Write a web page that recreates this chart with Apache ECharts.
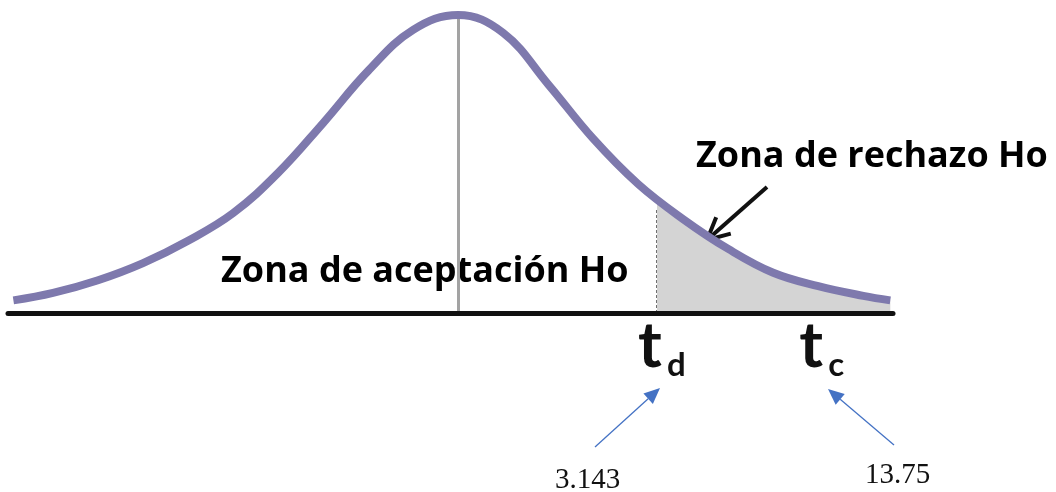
<!DOCTYPE html>
<html>
<head>
<meta charset="utf-8">
<script src="https://cdn.jsdelivr.net/npm/echarts@6/dist/echarts.min.js"></script>
<style>
  html, body { margin: 0; padding: 0; background: #fff; }
  #main { width: 1056px; height: 492px; }
</style>
</head>
<body>
<div id="main"></div>
<script>
// puntos (t, densidad)
var curveX = [-4.94, -4.5, -4, -3.5, -3, -2.5, -2, -1.5, -1, -0.5, 0,
              0.5, 1, 1.5, 2, 2.5, 3, 3.5, 4, 4.5, 4.80];
var curveY = [0.017, 0.027, 0.044, 0.067, 0.097, 0.134, 0.188, 0.255, 0.325, 0.380, 0.400,
              0.376, 0.307, 0.234, 0.173, 0.126, 0.086, 0.054, 0.036, 0.023, 0.017];
var tD = 2.21;          // t de decision (inicio zona de rechazo)
var tDHeight = 0.14;    // altura de la curva en tD
var tC = 4.0;           // t calculado
var tNames = ['d', 'c'];
var tValues = ['3.143', '13.75'];
var zoneLabels = ['Zona de aceptación Ho', 'Zona de rechazo Ho'];

var curve = curveX.map(function (x, i) { return [x, curveY[i]]; });
var xFirst = curveX[0], xLast = curveX[curveX.length - 1];
var cut = (tD - xFirst) / (xLast - xFirst);

var myChart = echarts.init(document.getElementById('main'));

var option = {
  animation: false,
  grid: { left: 8, right: 163, top: 15, bottom: 179 },
  xAxis: {
    type: 'value', min: -5, max: 4.83, z: 10,
    axisLine: { show: true, lineStyle: { color: '#111', width: 5 } },
    axisTick: { show: false }, axisLabel: { show: false }, splitLine: { show: false }
  },
  yAxis: {
    type: 'value', min: 0, max: 0.4, show: false,
    splitLine: { show: false }
  },
  series: [
    {
      name: 'curva',
      type: 'line',
      data: curve,
      smooth: 0.4,
      symbol: 'none',
      silent: true,
      lineStyle: { color: '#7e79ad', width: 8 },
      areaStyle: {
        opacity: 1,
        color: new echarts.graphic.LinearGradient(0, 0, 1, 0, [
          { offset: 0, color: 'rgba(212,212,212,0)' },
          { offset: cut, color: 'rgba(212,212,212,0)' },
          { offset: cut, color: '#d4d4d4' },
          { offset: 1, color: '#d4d4d4' }
        ])
      },
      markLine: {
        silent: true,
        symbol: 'none',
        label: { show: false },
        z: 1,
        data: [
          [{ coord: [0, 0], lineStyle: { color: '#a3a3a3', width: 3, type: 'solid' } }, { coord: [0, 0.4] }],
          [{ coord: [tD, 0], lineStyle: { color: '#707070', width: 3, type: [3, 2] } }, { coord: [tD, tDHeight] }]
        ]
      }
    }
  ]
};
myChart.setOption(option);

// flechas y textos
function arrow(x1, y1, x2, y2, color, w, len, half, open) {
  var a = Math.atan2(y2 - y1, x2 - x1);
  var bx = x2 - len * Math.cos(a), by = y2 - len * Math.sin(a);
  var px = -Math.sin(a) * half, py = Math.cos(a) * half;
  var p1 = [bx + px, by + py], p2 = [bx - px, by - py];
  var items = [{
    type: 'line',
    shape: { x1: x1, y1: y1, x2: open ? x2 : bx, y2: open ? y2 : by },
    style: { stroke: color, lineWidth: w }
  }];
  if (open) {
    items.push({ type: 'polyline', shape: { points: [p1, [x2, y2], p2] },
      style: { stroke: color, lineWidth: w, fill: null } });
  } else {
    items.push({ type: 'polygon', shape: { points: [p1, [x2, y2], p2] },
      style: { fill: color } });
  }
  return items;
}

var sans = '"Open Sans", Lato, sans-serif';
var graphic = [];
graphic.push({ type: 'text', left: 221, top: 254, style: { text: zoneLabels[0], font: 'bold 36px ' + sans, fill: '#000' } });
graphic.push({ type: 'text', left: 696, top: 139, style: { text: zoneLabels[1], font: 'bold 36px ' + sans, fill: '#000' } });
graphic = graphic.concat(arrow(767, 187, 707, 240, '#111', 4, 22, 11, true));

var dPx = myChart.convertToPixel({ gridIndex: 0 }, [tD, 0])[0];
var cPx = myChart.convertToPixel({ gridIndex: 0 }, [tC, 0])[0];
[dPx, cPx].forEach(function (px, i) {
  graphic.push({ type: 'text', x: px - 19, y: 314, style: { text: 't', font: 'bold 64px Lato, sans-serif', fill: '#111' } });
  graphic.push({ type: 'text', x: px + 10, y: 349, style: { text: tNames[i], font: 'bold 33px Lato, sans-serif', fill: '#111' } });
});

graphic = graphic.concat(arrow(595, 447, 660, 388, '#4472c4', 1.3, 16, 7, false));
graphic = graphic.concat(arrow(894, 445, 828, 389, '#4472c4', 1.3, 16, 7, false));
graphic.push({ type: 'text', x: 555, y: 466, style: { text: tValues[0], font: '29px "Liberation Serif", serif', fill: '#111' } });
graphic.push({ type: 'text', x: 865, y: 461, style: { text: tValues[1], font: '29px "Liberation Serif", serif', fill: '#111' } });

myChart.setOption({ graphic: graphic });
</script>
</body>
</html>
